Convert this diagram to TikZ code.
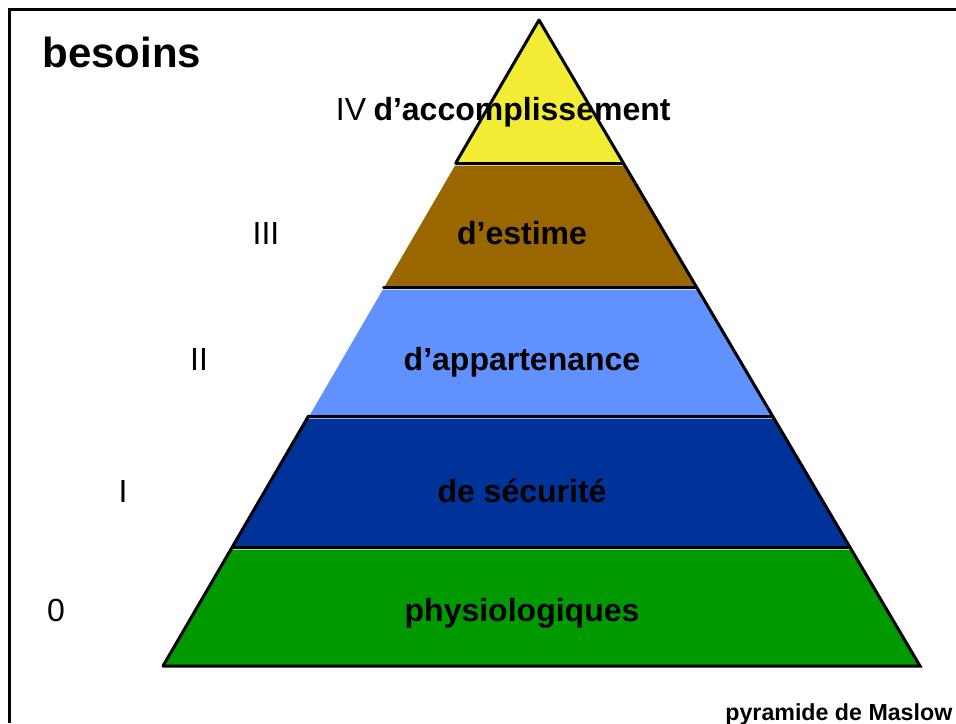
\documentclass[tikz,border=0pt]{standalone}
\usepackage{fontspec}
\setmainfont{Liberation Sans}
\definecolor{accyel}{RGB}{242,236,52}
\definecolor{estbrown}{RGB}{153,102,0}
\definecolor{appblue}{RGB}{97,144,255}
\definecolor{secblue}{RGB}{0,51,153}
\definecolor{phygreen}{RGB}{0,153,0}
\tikzstyle{layer}=[draw=white,line width=0.5pt]
\tikzstyle{edge}=[line width=1.5pt,line cap=round]
\tikzstyle{lab}=[font=\bfseries\fontsize{16}{19}\selectfont,inner sep=0,anchor=base]
\tikzstyle{num}=[font=\fontsize{16}{19}\selectfont,inner sep=0,anchor=base]

\begin{document}
\begin{tikzpicture}[x=0.5pt,y=-0.5pt,
  declare function={xl(\y)=539-(\y-20)/646*376; xr(\y)=539+(\y-20)/646*381;}]
\useasboundingbox (0,0) rectangle (956,723);
\draw[line width=1.5pt] (9,723)--(9,9)--(956,9);

% the five levels
\foreach \yt/\yb/\col in {20/163/accyel,165/287/estbrown,289/416/appblue,418/547/secblue,549/666/phygreen}{
	\fill[\col,layer] ({xl(\yt)},\yt)--({xr(\yt)},\yt)--({xr(\yb)},\yb)--({xl(\yb)},\yb)--cycle;}
\coordinate (apex) at (539,20);
\coordinate (bl) at (163,666);
\coordinate (br) at (920,666);
\draw[edge] (apex)--(br)--(bl);
\draw[edge] (apex)--({xl(163)},163);
\draw[edge] ({xl(416)},416)--(bl);
\foreach \y in {163,287,416,547}{
	\draw[edge] ({xl(\y)},\y)--({xr(\y)},\y);}

\foreach \txt/\num/\nx/\by [count=\i] in {d’accomplissement/IV/351/120,d’estime/III/266/244,d’appartenance/II/199/370,de sécurité/I/123/502,physiologiques/0/56/621}{
	\node[lab] (lab\i) at (522,\by) {\txt};
	\node[num] (num\i) at (\nx,\by) {\num};}

\node[font=\bfseries\fontsize{21}{25}\selectfont,inner sep=0,anchor=base west] (besoins) at (42,67) {besoins};
\node[font=\bfseries\fontsize{11.6}{14}\selectfont,inner sep=0,anchor=base west] (maslow) at (725,720) {pyramide de Maslow};
\end{tikzpicture}
\end{document}
